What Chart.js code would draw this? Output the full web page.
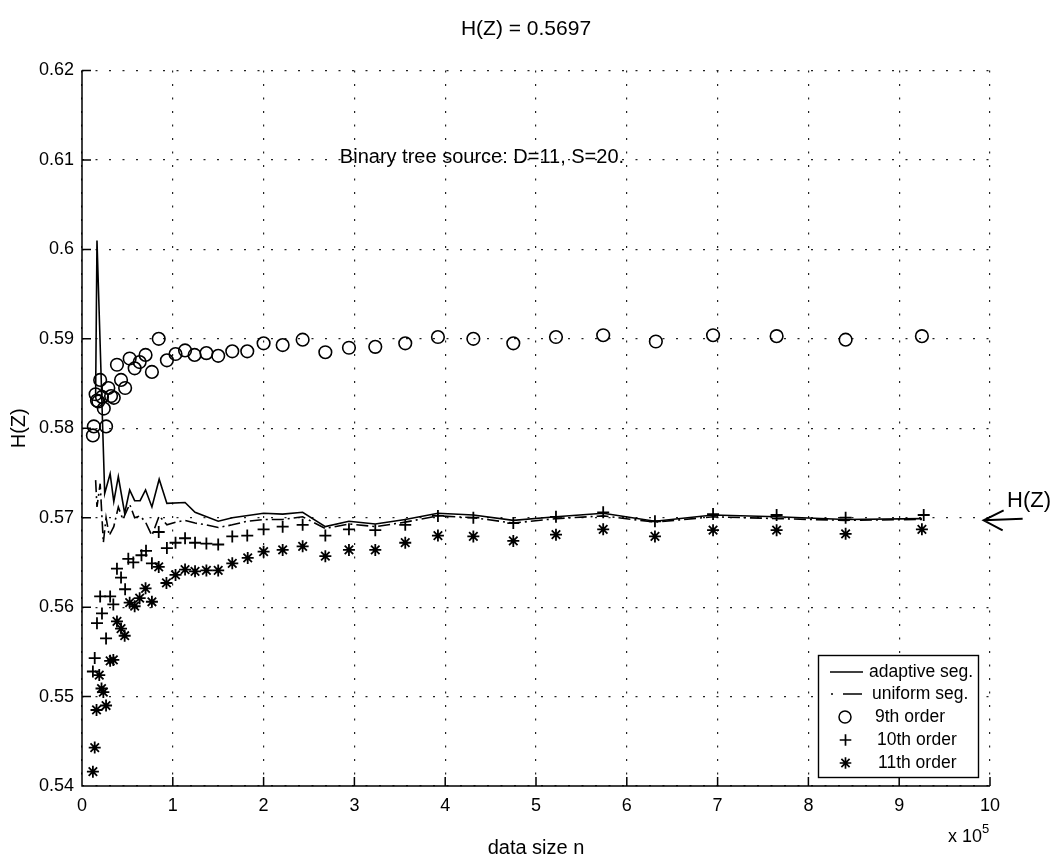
<!DOCTYPE html>
<html>
<head>
<meta charset="utf-8">
<script src="https://cdn.jsdelivr.net/npm/chart.js@4.4.1/dist/chart.umd.min.js"></script>
<style>
  html, body { margin: 0; padding: 0; background: #fff; }
  #wrap { width: 1055px; height: 861px; }
</style>
</head>
<body>
<div id="wrap"><canvas id="c" width="1055" height="861"></canvas></div>
<script>
// ---- data (x in units of 10^5) ----
const xTicks = [0, 1, 2, 3, 4, 5, 6, 7, 8, 9, 10];
const yTicks = [0.54, 0.55, 0.56, 0.57, 0.58, 0.59, 0.60, 0.61, 0.62];
const HZ = 0.5697;

const adaptiveX = [0.15, 0.165, 0.25, 0.31, 0.35, 0.40, 0.47, 0.525, 0.58, 0.64, 0.70, 0.77, 0.85, 0.935, 1.135, 1.245, 1.50, 1.655, 2.0, 2.21, 2.43, 2.68, 2.94, 3.23, 3.56, 3.92, 4.31, 4.75, 5.22, 5.74, 6.31, 6.95, 7.65, 8.41, 9.25];
const adaptiveY = [0.5836, 0.6010, 0.5727, 0.5749, 0.5718, 0.5746, 0.5705, 0.5731, 0.5719, 0.5719, 0.5731, 0.5712, 0.5743, 0.5716, 0.5717, 0.5706, 0.5696, 0.5700, 0.5705, 0.5704, 0.5706, 0.5690, 0.5696, 0.5693, 0.5698, 0.5705, 0.5703, 0.5697, 0.5701, 0.5705, 0.5696, 0.5703, 0.5701, 0.5698, 0.5699];

const uniformX = [0.15, 0.165, 0.20, 0.235, 0.265, 0.30, 0.35, 0.40, 0.45, 0.525, 0.58, 0.64, 0.70, 0.77, 0.85, 0.935, 1.03, 1.135, 1.245, 1.37, 1.50, 1.655, 1.82, 2.0, 2.21, 2.43, 2.68, 2.94, 3.23, 3.56, 3.92, 4.31, 4.75, 5.22, 5.74, 6.31, 6.95, 7.65, 8.41, 9.25];
const uniformY = [0.5742, 0.5712, 0.5738, 0.5672, 0.5700, 0.5680, 0.5690, 0.5712, 0.5698, 0.5715, 0.5700, 0.5702, 0.5695, 0.5680, 0.5702, 0.5692, 0.5695, 0.5697, 0.5694, 0.5692, 0.5689, 0.5692, 0.5696, 0.5698, 0.5698, 0.5701, 0.5688, 0.5693, 0.5690, 0.5695, 0.5702, 0.5700, 0.5694, 0.5699, 0.5702, 0.5695, 0.5701, 0.5699, 0.5697, 0.5698];

const ninthX = [0.12, 0.13, 0.15, 0.165, 0.18, 0.20, 0.22, 0.24, 0.265, 0.29, 0.32, 0.35, 0.385, 0.43, 0.475, 0.525, 0.58, 0.635, 0.70, 0.77, 0.845, 0.935, 1.03, 1.135, 1.24, 1.37, 1.50, 1.655, 1.82, 2.00, 2.21, 2.43, 2.68, 2.94, 3.23, 3.56, 3.92, 4.31, 4.75, 5.22, 5.74, 6.32, 6.95, 7.65, 8.41, 9.25];
const ninthY = [0.5792, 0.5802, 0.5838, 0.5831, 0.5830, 0.5854, 0.5835, 0.5822, 0.5802, 0.5845, 0.5836, 0.5834, 0.5871, 0.5854, 0.5845, 0.5878, 0.5867, 0.5874, 0.5882, 0.5863, 0.5900, 0.5876, 0.5883, 0.5887, 0.5882, 0.5884, 0.5881, 0.5886, 0.5886, 0.5895, 0.5893, 0.5899, 0.5885, 0.5890, 0.5891, 0.5895, 0.5902, 0.5900, 0.5895, 0.5902, 0.5904, 0.5897, 0.5904, 0.5903, 0.5899, 0.5903];

const tenthX = [0.12, 0.14, 0.165, 0.20, 0.22, 0.265, 0.31, 0.345, 0.385, 0.43, 0.475, 0.51, 0.565, 0.655, 0.705, 0.77, 0.845, 0.935, 1.03, 1.135, 1.245, 1.37, 1.50, 1.655, 1.82, 2.0, 2.21, 2.43, 2.68, 2.94, 3.23, 3.56, 3.92, 4.31, 4.75, 5.22, 5.74, 6.31, 6.95, 7.65, 8.41, 9.27];
const tenthY = [0.5528, 0.5543, 0.5582, 0.5612, 0.5593, 0.5565, 0.5612, 0.5603, 0.5643, 0.5633, 0.5620, 0.5654, 0.5650, 0.5658, 0.5663, 0.5649, 0.5684, 0.5666, 0.5672, 0.5677, 0.5672, 0.5671, 0.5670, 0.5679, 0.5680, 0.5687, 0.5690, 0.5692, 0.5680, 0.5687, 0.5686, 0.5692, 0.5702, 0.5700, 0.5694, 0.5701, 0.5706, 0.5696, 0.5704, 0.5703, 0.5700, 0.5703];

const eleventhX = [0.12, 0.14, 0.16, 0.19, 0.215, 0.235, 0.265, 0.31, 0.345, 0.385, 0.43, 0.47, 0.525, 0.58, 0.635, 0.70, 0.77, 0.845, 0.93, 1.03, 1.135, 1.245, 1.37, 1.50, 1.655, 1.825, 2.0, 2.21, 2.43, 2.68, 2.94, 3.23, 3.56, 3.92, 4.31, 4.75, 5.22, 5.74, 6.31, 6.95, 7.65, 8.41, 9.25];
const eleventhY = [0.5416, 0.5443, 0.5485, 0.5524, 0.5509, 0.5505, 0.5490, 0.5540, 0.5541, 0.5584, 0.5576, 0.5568, 0.5605, 0.5601, 0.5610, 0.5621, 0.5606, 0.5645, 0.5627, 0.5636, 0.5642, 0.5640, 0.5641, 0.5641, 0.5649, 0.5655, 0.5662, 0.5664, 0.5668, 0.5657, 0.5664, 0.5664, 0.5672, 0.5680, 0.5679, 0.5674, 0.5681, 0.5687, 0.5679, 0.5686, 0.5686, 0.5682, 0.5687];

const seriesNames = ['adaptive seg.', 'uniform seg.', '9th order', '10th order', '11th order'];
const titleText = 'H(Z) = 0.5697';
const noteText = 'Binary tree source: D=11, S=20.';
const xLabel = 'data size n';
const yLabel = 'H(Z)';

// ---- helpers ----
const pts = (xs, ys) => xs.map((v, i) => ({ x: v, y: ys[i] }));
const FONT = '"Liberation Sans", Arial, Helvetica, sans-serif';
const DASHDOT = [12, 4, 2, 4];

const overlay = {
  id: 'overlay',
  afterDraw(chart) {
    const { ctx, chartArea: a, scales: { x, y } } = chart;
    ctx.save();
    // axes lines
    ctx.strokeStyle = '#000';
    ctx.lineWidth = 1.5;
    ctx.setLineDash([]);
    ctx.beginPath();
    ctx.moveTo(a.left, a.top);
    ctx.lineTo(a.left, a.bottom);
    ctx.lineTo(a.right, a.bottom);
    // inward ticks
    y.ticks.forEach(t => {
      const py = y.getPixelForValue(t.value);
      ctx.moveTo(a.left, py); ctx.lineTo(a.left + 9, py);
    });
    x.ticks.forEach(t => {
      const px = x.getPixelForValue(t.value);
      ctx.moveTo(px, a.bottom); ctx.lineTo(px, a.bottom - 9);
    });
    ctx.stroke();

    ctx.fillStyle = '#000';
    // title
    ctx.font = '21px ' + FONT;
    ctx.textAlign = 'center';
    ctx.textBaseline = 'middle';
    ctx.fillText(titleText, (a.left + a.right) / 2 - 10, 29);
    // annotation (data coords)
    ctx.font = '20px ' + FONT;
    ctx.textAlign = 'left';
    ctx.fillText(noteText, x.getPixelForValue(2.84), y.getPixelForValue(0.6103));
    // x label
    ctx.textAlign = 'center';
    ctx.fillText(xLabel, (a.left + a.right) / 2, 848);
    // y label
    ctx.save();
    ctx.translate(19, (a.top + a.bottom) / 2);
    ctx.rotate(-Math.PI / 2);
    ctx.fillText(yLabel, 0, 0);
    ctx.restore();
    // exponent
    ctx.font = '18px ' + FONT;
    ctx.textAlign = 'right';
    ctx.textBaseline = 'alphabetic';
    ctx.fillText('x 10', 982, 842);
    ctx.font = '13px ' + FONT;
    ctx.textAlign = 'left';
    ctx.fillText('5', 982, 833);

    // H(Z) arrow at right
    const tipX = x.getPixelForValue(9.93);
    const tipY = y.getPixelForValue(HZ);
    ctx.lineWidth = 2;
    ctx.beginPath();
    ctx.moveTo(tipX + 39, tipY - 1.5);
    ctx.lineTo(tipX, tipY);
    ctx.moveTo(tipX + 20, tipY - 10);
    ctx.lineTo(tipX, tipY);
    ctx.lineTo(tipX + 19, tipY + 10);
    ctx.stroke();
    ctx.font = '22px ' + FONT;
    ctx.textAlign = 'left';
    ctx.textBaseline = 'middle';
    ctx.fillText(yLabel, 1007, tipY - 19);

    // legend
    const L = { x0: 818, y0: 655, x1: 978, y1: 777 };
    ctx.fillStyle = '#fff';
    ctx.fillRect(L.x0, L.y0, L.x1 - L.x0, L.y1 - L.y0);
    ctx.strokeStyle = '#000';
    ctx.lineWidth = 1.4;
    ctx.strokeRect(L.x0 + 0.5, L.y0 + 0.5, L.x1 - L.x0, L.y1 - L.y0);
    const rowY = [672, 694, 717, 740, 763];
    const textX = [869, 872, 875, 877, 878];
    ctx.lineWidth = 1.5;
    // solid sample
    ctx.beginPath(); ctx.moveTo(830, rowY[0]); ctx.lineTo(863, rowY[0]); ctx.stroke();
    // dash-dot sample
    ctx.beginPath(); ctx.moveTo(831, rowY[1]); ctx.lineTo(833, rowY[1]);
    ctx.moveTo(843, rowY[1]); ctx.lineTo(862, rowY[1]); ctx.stroke();
    // circle
    ctx.beginPath(); ctx.arc(845, rowY[2], 6, 0, Math.PI * 2); ctx.stroke();
    // plus
    const pr = 5.8;
    ctx.lineWidth = 1.7;
    ctx.beginPath();
    ctx.moveTo(845.5 - pr, rowY[3]); ctx.lineTo(845.5 + pr, rowY[3]);
    ctx.moveTo(845.5, rowY[3] - pr); ctx.lineTo(845.5, rowY[3] + pr);
    ctx.stroke();
    // star
    ctx.beginPath();
    const r = 5.8, cx = 845.5, cy = rowY[4];
    for (let k = 0; k < 4; k++) {
      const ang = k * Math.PI / 4;
      ctx.moveTo(cx - r * Math.cos(ang), cy - r * Math.sin(ang));
      ctx.lineTo(cx + r * Math.cos(ang), cy + r * Math.sin(ang));
    }
    ctx.stroke();
    ctx.fillStyle = '#000';
    ctx.font = '17.5px ' + FONT;
    ctx.textAlign = 'left';
    ctx.textBaseline = 'middle';
    seriesNames.forEach((s, i) => ctx.fillText(s, textX[i], rowY[i] + 0.5));
    ctx.restore();
  }
};

const chart = new Chart(document.getElementById('c'), {
  type: 'scatter',
  data: {
    datasets: [
      { label: seriesNames[0], data: pts(adaptiveX, adaptiveY), showLine: true, borderColor: '#000', borderWidth: 1.6, pointRadius: 0, tension: 0 },
      { label: seriesNames[1], data: pts(uniformX, uniformY), showLine: true, borderColor: '#000', borderWidth: 1.6, borderDash: DASHDOT, pointRadius: 0, tension: 0 },
      { label: seriesNames[2], data: pts(ninthX, ninthY), showLine: false, pointStyle: 'circle', pointRadius: 6.3, borderColor: '#000', backgroundColor: 'rgba(0,0,0,0)', pointBorderWidth: 1.6 },
      { label: seriesNames[3], data: pts(tenthX, tenthY), showLine: false, pointStyle: 'cross', pointRadius: 6, borderColor: '#000', backgroundColor: '#000', pointBorderWidth: 1.8 },
      { label: seriesNames[4], data: pts(eleventhX, eleventhY), showLine: false, pointStyle: 'star', pointRadius: 6, borderColor: '#000', backgroundColor: '#000', pointBorderWidth: 1.8 }
    ]
  },
  options: {
    responsive: false,
    animation: false,
    devicePixelRatio: 1,
    layout: { padding: { left: 0, right: 65, top: 70.5, bottom: 0 } },
    plugins: { legend: { display: false }, tooltip: { enabled: false }, title: { display: false } },
    scales: {
      x: {
        type: 'linear', min: 0, max: 10,
        afterBuildTicks: s => { s.ticks = xTicks.map(v => ({ value: v })); },
        afterFit: s => { s.height = 75; },
        ticks: { color: '#000', font: { size: 18, family: FONT }, padding: 9, maxRotation: 0, autoSkip: false,
                 callback: v => String(v) },
        grid: { color: '#222', lineWidth: 1.2, drawTicks: false },
        border: { display: false, dash: [2, 11.5] }
      },
      y: {
        type: 'linear', min: 0.54, max: 0.62,
        afterBuildTicks: s => { s.ticks = yTicks.map(v => ({ value: v })); },
        afterFit: s => { s.width = 82; },
        ticks: { color: '#000', font: { size: 18, family: FONT }, padding: 8, autoSkip: false,
                 callback: v => String(Number(v.toFixed(2))) },
        grid: { color: '#222', lineWidth: 1.2, drawTicks: false },
        border: { display: false, dash: [2, 11.5] }
      }
    }
  },
  plugins: [overlay]
});
</script>
</body>
</html>
